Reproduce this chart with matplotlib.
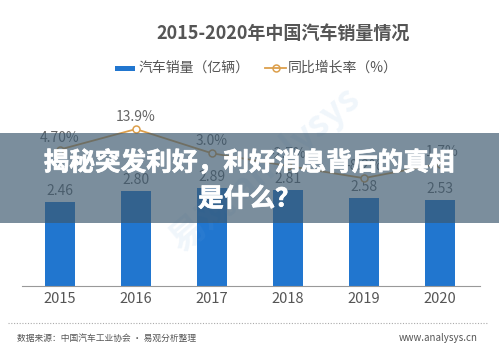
import numpy as np
import matplotlib.pyplot as plt
import matplotlib.patheffects as pe
from matplotlib.patches import Rectangle

plt.rcParams['font.family'] = ['Noto Sans CJK SC', 'DejaVu Sans']

# -----------------------------
# DATA
# -----------------------------
years = ["2015", "2016", "2017", "2018", "2019", "2020"]
sales = [2.46, 2.80, 2.89, 2.81, 2.58, 2.53]
growth = [4.7, 13.9, 3.0, -2.7, -8.2, -1.7]
growth_labels = ["4.70%", "13.9%", "3.0%", "-2.7%", "-8.2%", "-1.7%"]

W, H = 499, 357
fig = plt.figure(figsize=(W / 100, H / 100), dpi=100)
fig.patch.set_facecolor("white")


def fx(px):
    return px / W


def fy(py):
    return 1 - py / H


# axes: x 22..480 px, y 110..286 px
ax = fig.add_axes([fx(22), fy(286), fx(480 - 22), (286 - 110) / H])
x = np.arange(len(years))
ax.bar(x, sales, width=0.4, color="#2176cf", zorder=2)
ax.set_xlim(-0.5, 5.53)
ax.set_ylim(0, 176 / 34)
for s in ["top", "right", "left"]:
    ax.spines[s].set_visible(False)
ax.spines["bottom"].set_color("#999999")
ax.spines["bottom"].set_linewidth(0.8)
ax.set_yticks([])
ax.set_xticks(x)
ax.set_xticklabels(years, fontsize=10.5, color="#555555")
ax.tick_params(axis="x", length=0, pad=4)
for i, v in enumerate(sales):
    ax.text(i, v + 0.12, f"{v:.2f}", ha="center", va="bottom", fontsize=10, color="#666666")

# growth line on secondary axis
ax2 = ax.twinx()
ax2.set_ylim(-56.8, 22.5)
ax2.plot(x, growth, color="#dc9f4c", lw=1.3, marker="o", ms=5,
         markerfacecolor="white", markeredgecolor="#dc9f4c", mew=1.1, zorder=3)
ax2.axis("off")
for i, v in enumerate(growth):
    ax2.text(i, v + 2.2, growth_labels[i], ha="center", va="bottom", fontsize=10, color="#666666")

# watermark
fig.text(fx(265), fy(170), "易观 analysys", fontsize=26, color="#6fa8dc", alpha=0.1,
         rotation=40, ha="center", va="center", fontweight="bold")

# title and legend
fig.text(fx(283), fy(33), "2015-2020年中国汽车销量情况", fontsize=13, fontweight="bold",
         color="#555555", ha="center", va="center")
fig.patches.append(Rectangle((fx(115), fy(71)), fx(20), 5 / H, transform=fig.transFigure,
                             facecolor="#2176cf", edgecolor="none"))
fig.text(fx(138), fy(68), "汽车销量（亿辆）", fontsize=10, color="#555555", va="center")
fig.lines.append(plt.Line2D([fx(265), fx(286)], [fy(68), fy(68)], transform=fig.transFigure,
                            color="#dc9f4c", lw=1.3, zorder=3))
fig.lines.append(plt.Line2D([fx(275.5)], [fy(68)], transform=fig.transFigure, color="#dc9f4c",
                            marker="o", ms=5, markerfacecolor="white", mew=1.1))
fig.text(fx(288), fy(68), "同比增长率（%）", fontsize=10, color="#555555", va="center")

# footer
fig.lines.append(plt.Line2D([fx(8), fx(488)], [fy(323), fy(323)], transform=fig.transFigure,
                            color="#aaaaaa", lw=0.8, ls=(0, (1, 1.5))))
fig.text(fx(17), fy(338), "数据来源：中国汽车工业协会 · 易观分析整理", fontsize=6.3,
         color="#555555", va="center")
fig.text(fx(478), fy(338), "www.analysys.cn", fontsize=7, color="#555555", va="center", ha="right")

# overlay banner
fig.patches.append(Rectangle((0, fy(223)), 1, 90 / H, transform=fig.transFigure,
                             facecolor=(61 / 255, 89 / 255, 111 / 255), alpha=0.68,
                             edgecolor="none", zorder=10))
heavy = [pe.withStroke(linewidth=0.5, foreground="white")]
fig.text(0.5, fy(163), "揭秘突发利好，利好消息背后的真相", fontsize=18.5, fontweight="heavy",
         color="white", ha="center", va="center", zorder=11, path_effects=heavy)
fig.text(0.5, fy(199), "是什么？", fontsize=18.5, fontweight="heavy",
         color="white", ha="center", va="center", zorder=11, path_effects=heavy)

fig.savefig("out.png", dpi=100)
